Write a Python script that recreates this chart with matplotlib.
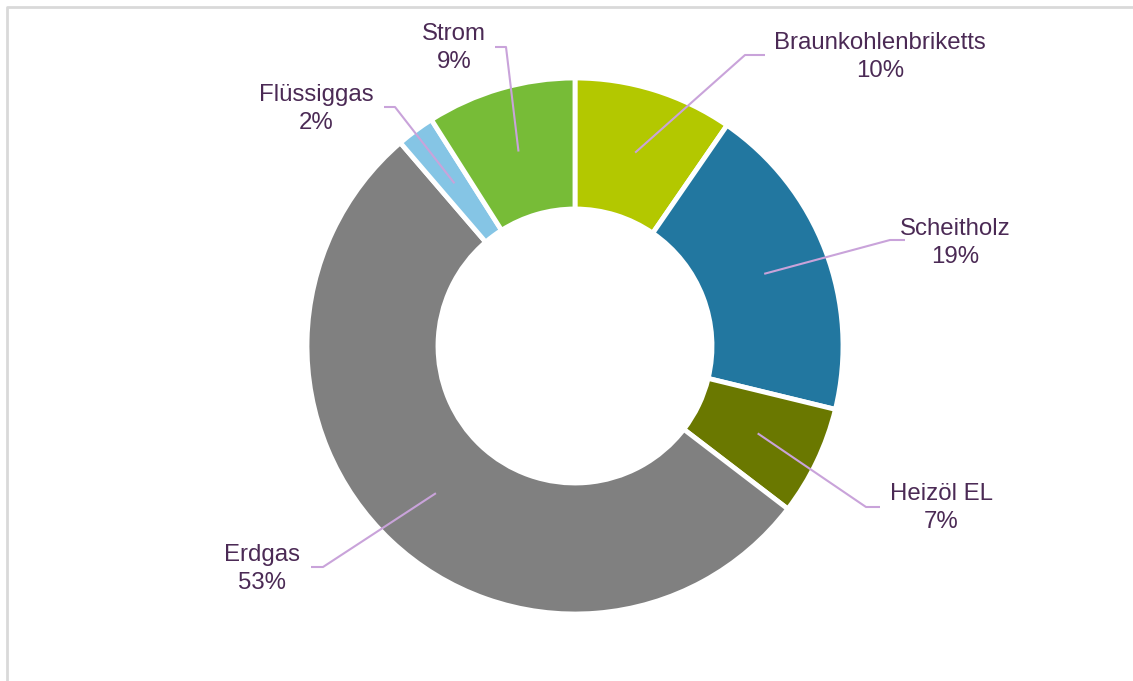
import numpy as np
import matplotlib
matplotlib.use("Agg")
import matplotlib.pyplot as plt

# Daten (im Uhrzeigersinn ab 12 Uhr)
kategorien = ["Braunkohlenbriketts", "Scheitholz", "Heizöl EL", "Erdgas", "Flüssiggas", "Strom"]
anteile = [9.6, 19.2, 6.6, 53.3, 2.3, 9.0]
farben = ["#B3C800", "#2277A0", "#6A7800", "#808080", "#85C5E5", "#77BC37"]

B, H = 1133, 681
plt.rcParams["font.family"] = ["Liberation Sans", "DejaVu Sans"]

fig = plt.figure(figsize=(B / 100, H / 100), dpi=100)
ax = fig.add_axes([0, 0, 1, 1])

mitte = (575, H - 346)
r_aussen = 268
breite = 131

wedges, _ = ax.pie(anteile, colors=farben, startangle=90, counterclock=False,
                   center=mitte, radius=r_aussen, frame=True,
                   wedgeprops=dict(width=breite, edgecolor="white", linewidth=3.5))
ax.set_xlim(0, B)
ax.set_ylim(0, H)
ax.set_aspect("equal")
ax.axis("off")

# Beschriftungen: Textmitte und Knickpunkt (Pixel von oben)
text_pos = [(880, 57), (955, 243), (941, 508), (262, 569), (316, 109), (454, 48)]
knick = [(745, 55), (890, 240), (866, 507), (323, 567), (395, 107), (506, 47)]
ende = [(765, 55), (905, 240), (880, 507), (311, 567), (384, 107), (495, 47)]

linie = "#C9A3DA"
textfarbe = "#4B2A55"
r_mitte = r_aussen - breite / 2
for w, name, wert, tp, kp, ep in zip(wedges, kategorien, anteile, text_pos, knick, ende):
    winkel = np.deg2rad((w.theta1 + w.theta2) / 2)
    x0 = mitte[0] + r_mitte * np.cos(winkel)
    y0 = mitte[1] + r_mitte * np.sin(winkel)
    ax.plot([x0, kp[0], ep[0]], [y0, H - kp[1], H - ep[1]], color=linie, lw=1.5,
            solid_capstyle="butt", zorder=3)
    ax.text(tp[0], H - tp[1], f"{name}\n{round(wert):.0f}%", ha="center", va="center",
            fontsize=17.3, color=textfarbe, linespacing=1.3)

# Rahmen (nur oben und links sichtbar)
ax.plot([7, 7, B], [0, H - 7, H - 7], color="#D9D9D9", lw=2, clip_on=False)

fig.savefig("out.png", dpi=100)
